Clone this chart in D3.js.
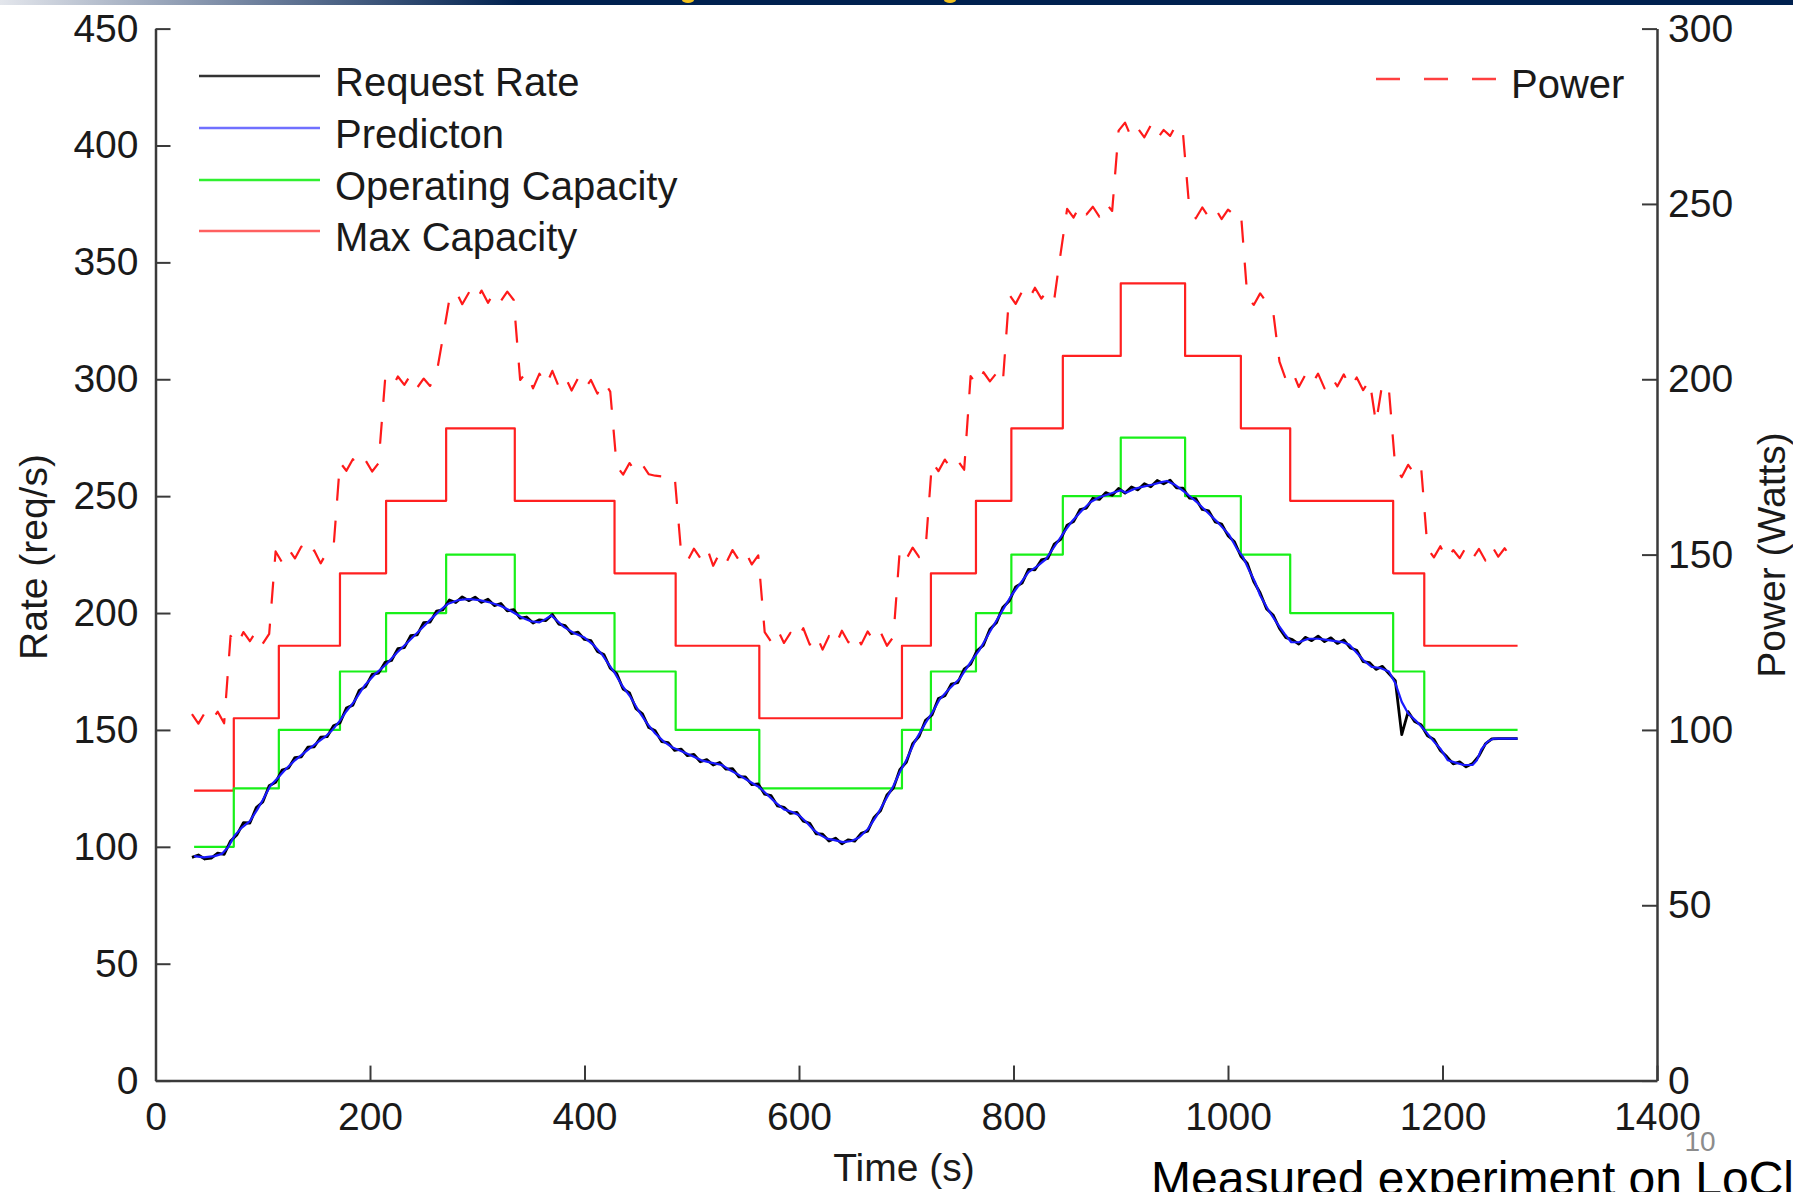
<!DOCTYPE html>
<html>
<head>
<meta charset="utf-8">
<script src="https://cdn.jsdelivr.net/npm/d3@7"></script>
<style>
  html, body { margin: 0; padding: 0; background: #fff; overflow: hidden; }
  svg { display: block; }
</style>
</head>
<body>
<div id="vis"></div>
<script>
// Data ------------------------------------------------------------------------------------------------------------------
// server count changes (s) and the capacity held between two changes
const stepTimes = [36, 73, 115, 172, 215, 271, 335, 428, 485, 563, 696, 723, 765, 798, 846, 900, 960, 1012, 1058, 1154, 1183, 1270];
const maxCapacity = [124, 155, 186, 217, 248, 279, 248, 217, 186, 155, 186, 217, 248, 279, 310, 341, 310, 279, 248, 217, 186];
const operatingCapacity = [100, 125, 150, 175, 200, 225, 200, 175, 150, 125, 150, 175, 200, 225, 250, 275, 250, 225, 200, 175, 150];

// request rate and power are sampled every 6 s from t = 34 s
const sampleStart = 34;
const sampleStep = 6;

const requestRate = [
  95.5, 96.5, 94.8, 95.2, 97.3, 96.8, 102.5, 105.2, 110.3, 110.2,
  116.8, 119.2, 126.1, 127.6, 132.8, 133.7, 138.2, 138.5, 142.6, 142.8,
  146.9, 147.1, 151.8, 153.0, 159.4, 160.6, 166.9, 168.6, 173.8, 174.3,
  178.9, 179.7, 184.8, 185.2, 190.3, 190.7, 195.9, 196.1, 200.8, 201.4,
  205.6, 204.5, 206.9, 205.3, 206.8, 204.6, 205.9, 203.2, 204.1, 200.9,
  201.5, 197.8, 198.3, 195.7, 197.1, 196.8, 199.4, 195.3, 194.6, 191.2,
  191.8, 188.7, 188.2, 183.6, 182.3, 176.4, 174.1, 167.5, 165.8, 159.1,
  156.9, 151.0, 149.6, 145.0, 144.6, 141.3, 141.8, 139.0, 139.5, 136.4,
  137.3, 135.0, 136.1, 133.2, 133.4, 129.9, 129.9, 126.6, 126.9, 122.5,
  121.9, 117.5, 116.9, 114.3, 114.7, 111.0, 110.1, 105.6, 105.4, 102.5,
  103.7, 101.3, 103.0, 102.4, 105.8, 106.7, 112.6, 115.4, 122.2, 125.1,
  133.0, 136.1, 144.1, 147.3, 154.1, 156.4, 163.4, 164.6, 169.6, 170.2,
  176.0, 178.1, 183.9, 186.3, 193.1, 195.8, 202.4, 205.1, 211.2, 212.8,
  218.7, 218.5, 222.7, 223.4, 229.5, 231.5, 237.6, 239.1, 244.2, 244.9,
  249.1, 248.6, 251.5, 250.4, 253.3, 251.3, 253.9, 252.7, 255.3, 254.0,
  256.7, 255.3, 256.8, 253.5, 253.4, 249.2, 248.9, 244.3, 243.7, 239.0,
  238.1, 233.1, 230.5, 224.3, 221.2, 213.5, 208.6, 201.7, 199.2, 193.4,
  189.5, 188.6, 186.7, 189.6, 188.2, 190.1, 187.8, 189.4, 187.0, 188.5,
  185.1, 184.1, 179.2, 178.8, 175.9, 177.2, 174.1, 171.1, 148.0, 157.8,
  153.6, 152.2, 147.5, 145.9, 141.2, 138.6, 135.5, 136.3, 134.2, 135.6,
  138.9, 144.0, 146.2, 146.3, 146.3, 146.3, 146.3
];

const power = [
  104.5, 101.8, 104.9, 102.6, 105.2, 101.9, 126.8, 124.1, 127.9, 125.3,
  128.2, 124.6, 127.4, 150.9, 147.8, 151.6, 148.9, 152.3, 149.1, 151.2,
  147.5, 150.8, 152.0, 176.3, 173.9, 177.2, 174.6, 176.8, 173.7, 176.1,
  199.6, 197.2, 200.8, 198.4, 201.3, 197.6, 200.2, 198.1, 201.5, 212.0,
  222.8, 225.1, 221.4, 224.6, 222.0, 225.3, 221.8, 224.9, 222.3, 225.0,
  222.6, 199.8, 202.1, 197.4, 201.6, 198.2, 202.4, 197.9, 200.7, 196.8,
  200.3, 197.2, 199.8, 195.9, 199.4, 196.5, 175.2, 172.8, 176.1, 173.4,
  175.6, 172.9, 172.5, 172.3, 172.4, 172.6, 150.9, 148.2, 151.7, 149.0,
  152.1, 146.8, 150.5, 147.6, 151.3, 148.4, 150.9, 147.2, 149.8, 127.9,
  125.2, 128.6, 124.8, 127.7, 125.6, 129.0, 124.3, 127.2, 122.9, 126.8,
  124.1, 128.3, 125.0, 127.6, 124.4, 128.1, 125.3, 127.9, 124.0, 126.5,
  151.4, 148.7, 152.0, 149.3, 151.6, 176.4, 173.8, 177.1, 174.5, 176.8,
  174.2, 200.9, 198.3, 202.0, 199.4, 201.7, 198.9, 224.2, 221.5, 225.0,
  222.6, 226.1, 223.0, 225.4, 222.8, 236.0, 248.6, 246.1, 249.7, 247.0,
  249.2, 246.4, 250.3, 248.0, 270.9, 273.2, 268.8, 271.5, 269.0, 272.4,
  268.6, 271.1, 269.4, 272.8, 270.2, 248.5, 245.9, 249.0, 246.3, 248.8,
  245.7, 248.4, 246.9, 247.6, 223.6, 221.2, 224.5, 222.0, 219.5, 205.0,
  199.9, 202.3, 197.8, 201.2, 198.5, 201.6, 197.4, 200.8, 198.0, 201.4,
  197.6, 200.5, 196.9, 199.8, 187.5, 199.0, 197.2, 174.8, 172.1, 175.6,
  173.0, 175.2, 151.8, 149.2, 152.4, 148.6, 151.3, 149.0, 152.2, 148.9,
  151.6, 148.3, 152.5, 149.4, 151.8, 149.1, 150.6
];

// prediction: [time (s), rate (req/s)]
const prediction = [
  [36, 96], [45, 95.5], [55, 96], [62, 97], [68, 100], [74, 105], [80, 108], [88, 111], [95, 116], [100, 120],
  [107, 126], [115, 130], [122, 133.5], [130, 137], [138, 140], [145, 142.5], [152, 145], [158, 147], [165, 150],
  [172, 154], [178, 158], [185, 162], [195, 169], [205, 174], [215, 178], [225, 183], [234, 187], [245, 192],
  [257, 197.5], [265, 201], [273, 204], [282, 205.5], [292, 206], [302, 205.5], [312, 204.5], [322, 203], [331, 201],
  [342, 198], [350, 196.5], [358, 196], [364, 197.5], [369, 199], [375, 196.5], [381, 194], [390, 191.5], [400, 189.5],
  [408, 186.5], [416, 182.5], [422, 178.5], [428, 174.5], [435, 169], [443, 164], [450, 158.5], [458, 153], [466, 148.5],
  [474, 145], [482, 142.5], [490, 141], [500, 139], [509, 137], [518, 136], [528, 135], [535, 133], [543, 131],
  [552, 128.5], [563, 125.5], [570, 122.5], [578, 119], [586, 116], [593, 115], [600, 113.5], [607, 110.5], [613, 107.5],
  [620, 105], [626, 103.5], [632, 103], [641, 102], [649, 102.5], [656, 104], [664, 107.5], [672, 113], [680, 119.5],
  [688, 126], [694, 132], [700, 137], [708, 145], [718, 153], [725, 158], [731, 163], [740, 167.5], [750, 172],
  [760, 179], [768, 184], [778, 192], [787, 199], [798, 207.5], [806, 212.5], [814, 217.5], [822, 220], [830, 223],
  [839, 229], [847, 234.5], [855, 239.5], [864, 244], [872, 247.5], [880, 249.5], [890, 251], [900, 252.5], [905, 251.5],
  [912, 253], [920, 254], [930, 255], [938, 256], [943, 256.5], [950, 255], [956, 253], [963, 250.5], [972, 247],
  [981, 243], [990, 239], [1001, 233.5], [1009, 227], [1014, 224], [1020, 218], [1025, 213.5], [1030, 207.5],
  [1038, 201], [1046, 195.5], [1053, 191], [1059, 187.5], [1066, 187.5], [1075, 189], [1084, 189], [1092, 188.5],
  [1100, 188], [1107, 187.5], [1113, 186.5], [1120, 183], [1127, 179.5], [1134, 177], [1142, 176.5], [1150, 175],
  [1156, 170], [1162, 162], [1168, 157], [1175, 154], [1184, 149.5], [1192, 145], [1198, 142], [1205, 137],
  [1212, 136], [1220, 135], [1228, 135], [1232, 137], [1236, 141.5], [1242, 145], [1248, 146.3], [1258, 146.3],
  [1270, 146.3]
];

const rateTicks = [0, 50, 100, 150, 200, 250, 300, 350, 400, 450];
const powerTicks = [0, 50, 100, 150, 200, 250, 300];
const timeTicks = [0, 200, 400, 600, 800, 1000, 1200, 1400];

const legendLabels = ["Request Rate", "Predicton", "Operating Capacity", "Max Capacity"];

// Canvas ----------------------------------------------------------------------------------------------------------------
const canvasWidth = 1793;
const canvasHeight = 1192;

const leftX = 155.5;
const rightX = 1657;
const topY = 28.6;
const bottomY = 1080.6;

const fontFamily = "'Liberation Sans', Arial, Helvetica, sans-serif";
const labelSize = 39;
const legendSize = 40;
const textColor = "#1a1a1a";
const axisColor = "#3a3a3a";
const tickLength = 15;

const svg = d3.select("#vis")
  .append("svg")
  .attr("width", canvasWidth)
  .attr("height", canvasHeight)
  .attr("viewBox", [0, 0, canvasWidth, canvasHeight]);

// slide header strip
const grad = svg.append("defs")
  .append("linearGradient")
  .attr("id", "band")
  .attr("gradientUnits", "userSpaceOnUse")
  .attr("x1", 0).attr("x2", 520).attr("y1", 0).attr("y2", 0);
grad.append("stop").attr("offset", 0).attr("stop-color", "#e3e6ec");
grad.append("stop").attr("offset", 0.5).attr("stop-color", "#6d7f9c");
grad.append("stop").attr("offset", 1).attr("stop-color", "#00214f");

svg.append("rect")
  .attr("x", 0).attr("y", 0)
  .attr("width", canvasWidth).attr("height", 5)
  .attr("fill", "url(#band)");

[688, 950].forEach(function(cx) {
  svg.append("ellipse")
    .attr("cx", cx).attr("cy", 0)
    .attr("rx", 6).attr("ry", 3)
    .attr("fill", "#f2c21e");
});

// Scales and axes -------------------------------------------------------------------------------------------------------
const xScale = d3.scaleLinear().domain([0, 1400]).range([leftX, rightX]);
const yRate = d3.scaleLinear().domain([0, 450]).range([bottomY, topY]);
const yPower = d3.scaleLinear().domain([0, 300]).range([bottomY, topY]);

function styleAxis(g) {
  g.attr("font-family", fontFamily)
    .attr("font-size", labelSize);
  g.select(".domain")
    .attr("stroke", axisColor)
    .attr("stroke-width", 2.5);
  g.selectAll(".tick line")
    .attr("stroke", axisColor)
    .attr("stroke-width", 2);
  g.selectAll(".tick text")
    .attr("fill", textColor);
}

svg.append("g")
  .attr("transform", "translate(0," + bottomY + ")")
  .call(d3.axisBottom(xScale).tickValues(timeTicks).tickFormat(d3.format("d"))
    .tickSizeInner(-tickLength).tickSizeOuter(0).tickPadding(22))
  .call(styleAxis);

svg.append("g")
  .attr("transform", "translate(" + leftX + ",0)")
  .call(d3.axisLeft(yRate).tickValues(rateTicks).tickFormat(d3.format("d"))
    .tickSizeInner(-tickLength).tickSizeOuter(0).tickPadding(17))
  .call(styleAxis);

svg.append("g")
  .attr("transform", "translate(" + rightX + ",0)")
  .call(d3.axisRight(yPower).tickValues(powerTicks).tickFormat(d3.format("d"))
    .tickSizeInner(-tickLength).tickSizeOuter(0).tickPadding(11))
  .call(styleAxis);

// axis titles
svg.append("text")
  .text("Time (s)")
  .attr("x", 904)
  .attr("y", 1181)
  .attr("text-anchor", "middle")
  .attr("font-family", fontFamily)
  .attr("font-size", labelSize)
  .attr("fill", textColor);

svg.append("text")
  .text("Rate (req/s)")
  .attr("transform", "translate(33,557) rotate(-90)")
  .attr("text-anchor", "middle")
  .attr("dominant-baseline", "central")
  .attr("font-family", fontFamily)
  .attr("font-size", labelSize)
  .attr("fill", textColor);

svg.append("text")
  .text("Power (Watts)")
  .attr("transform", "translate(1771,555) rotate(-90)")
  .attr("text-anchor", "middle")
  .attr("dominant-baseline", "central")
  .attr("font-family", fontFamily)
  .attr("font-size", labelSize)
  .attr("fill", textColor);

// Series ----------------------------------------------------------------------------------------------------------------
function stepRows(values) {
  const rows = values.map((v, i) => ({t: stepTimes[i], v: v}));
  rows.push({t: stepTimes[values.length], v: values[values.length - 1]});
  return rows;
}

const stepLine = d3.line()
  .curve(d3.curveStepAfter)
  .x(d => xScale(d.t))
  .y(d => yRate(d.v));

const plot = svg.append("g")
  .attr("fill", "none")
  .attr("stroke-linejoin", "round");

plot.append("path")
  .datum(stepRows(maxCapacity))
  .attr("d", stepLine)
  .attr("stroke", "#ff2020")
  .attr("stroke-width", 2.2);

plot.append("path")
  .datum(stepRows(operatingCapacity))
  .attr("d", stepLine)
  .attr("stroke", "#18f018")
  .attr("stroke-width", 2.2);

plot.append("path")
  .datum(power)
  .attr("d", d3.line()
    .x((d, i) => xScale(sampleStart + i * sampleStep))
    .y(d => yPower(d)))
  .attr("stroke", "#ff1a1a")
  .attr("stroke-width", 2.2)
  .attr("stroke-dasharray", "22,20");

plot.append("path")
  .datum(requestRate)
  .attr("d", d3.line()
    .x((d, i) => xScale(sampleStart + i * sampleStep))
    .y(d => yRate(d)))
  .attr("stroke", "#000")
  .attr("stroke-width", 2.8);

plot.append("path")
  .datum(prediction)
  .attr("d", d3.line()
    .x(d => xScale(d[0]))
    .y(d => yRate(d[1])))
  .attr("stroke", "#1a1aff")
  .attr("stroke-width", 2.2);

// Legend ----------------------------------------------------------------------------------------------------------------
const legendColors = ["#333", "#7070ff", "#30f030", "#ff6060"];
const legendRows = [76, 128, 180, 231];

const legend = svg.append("g");
legendLabels.forEach(function(label, i) {
  legend.append("line")
    .attr("x1", 199).attr("x2", 320)
    .attr("y1", legendRows[i]).attr("y2", legendRows[i])
    .attr("stroke", legendColors[i])
    .attr("stroke-width", 2.5);
  legend.append("text")
    .text(label)
    .attr("x", 335)
    .attr("y", legendRows[i] + 20)
    .attr("font-family", fontFamily)
    .attr("font-size", legendSize)
    .attr("fill", textColor);
});

legend.append("line")
  .attr("x1", 1376).attr("x2", 1496)
  .attr("y1", 79).attr("y2", 79)
  .attr("stroke", "#ff4040")
  .attr("stroke-width", 2.5)
  .attr("stroke-dasharray", "24,24");

legend.append("text")
  .text("Power")
  .attr("x", 1511)
  .attr("y", 98)
  .attr("font-family", fontFamily)
  .attr("font-size", legendSize)
  .attr("fill", textColor);

// Slide footer ----------------------------------------------------------------------------------------------------------
svg.append("text")
  .text("10")
  .attr("x", 1700)
  .attr("y", 1151)
  .attr("text-anchor", "middle")
  .attr("font-family", fontFamily)
  .attr("font-size", 28)
  .attr("fill", "#8c8c8c");

svg.append("text")
  .text("Measured experiment on LoCloud")
  .attr("x", 1151)
  .attr("y", 1195)
  .attr("font-family", fontFamily)
  .attr("font-size", 48)
  .attr("fill", "#000");
</script>
</body>
</html>
